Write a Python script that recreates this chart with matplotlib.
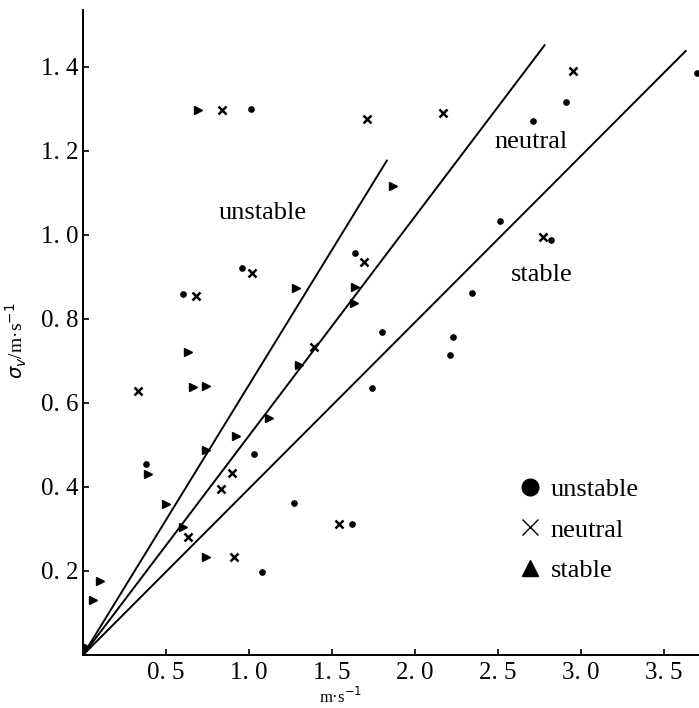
import numpy as np
import matplotlib
matplotlib.use("Agg")
from matplotlib import pyplot as plt
from matplotlib.lines import Line2D

plt.rcParams['font.family'] = ['Liberation Serif', 'DejaVu Serif']

# unstable cases (dots)
unstable_x = [1.01, 0.96, 0.60, 0.38, 1.03, 1.27, 1.08, 1.62, 1.64, 1.80, 1.74,
              2.34, 2.23, 2.21, 2.51, 2.71, 2.91, 2.82, 3.70]
unstable_y = [1.30, 0.92, 0.86, 0.455, 0.478, 0.361, 0.198, 0.311, 0.956, 0.768, 0.635,
              0.861, 0.756, 0.713, 1.034, 1.27, 1.315, 0.987, 1.384]

# neutral cases (crosses)
neutral_x = [0.84, 1.02, 0.68, 0.33, 1.39, 0.90, 0.83, 0.63, 0.91, 1.54, 1.69,
             1.71, 2.17, 2.95, 2.77]
neutral_y = [1.298, 0.909, 0.854, 0.628, 0.732, 0.433, 0.394, 0.281, 0.233, 0.312, 0.935,
             1.275, 1.29, 1.39, 0.995]

# stable cases (triangles)
stable_x = [0.69, 1.28, 0.63, 0.66, 0.74, 1.12, 1.30, 0.92, 0.74, 0.39, 0.50,
            0.60, 0.74, 0.10, 0.06, 1.87, 1.63, 1.64, 0.02]
stable_y = [1.298, 0.873, 0.72, 0.637, 0.64, 0.564, 0.69, 0.521, 0.488, 0.43, 0.359,
            0.304, 0.233, 0.176, 0.131, 1.115, 0.837, 0.875, 0.02]

# lines through the origin: slope and end point
line_slopes = [0.643, 0.522, 0.396]
line_ends = [1.83, 2.78, 3.63]

region_names = ["unstable", "neutral", "stable"]
region_x = [1.08, 2.70, 2.76]
region_y = [1.053, 1.22, 0.904]

xticks = [0.5, 1.0, 1.5, 2.0, 2.5, 3.0, 3.5]
xtick_labels = ["0. 5", "1. 0", "1. 5", "2. 0", "2. 5", "3. 0", "3. 5"]
yticks = [0.2, 0.4, 0.6, 0.8, 1.0, 1.2, 1.4]
ytick_labels = ["0. 2", "0. 4", "0. 6", "0. 8", "1. 0", "1. 2", "1. 4"]

fig = plt.figure(figsize=(6.99, 7.08), dpi=100)
ax = fig.add_axes([83 / 699, 53 / 708, 616 / 699, 645 / 708])

for k, xe in zip(line_slopes, line_ends):
    ax.plot([0, xe], [0, k * xe], color="black", lw=1.4)

ax.plot(unstable_x, unstable_y, "o", color="black", ms=3.8, ls="")
ax.plot(neutral_x, neutral_y, "x", color="black", ms=5.5, mew=1.8, ls="")
ax.plot(stable_x, stable_y, ">", color="black", ms=6, ls="")

for name, tx, ty in zip(region_names, region_x, region_y):
    ax.text(tx, ty, name, fontsize=19, ha="center", va="center")

handles = [
    Line2D([], [], marker="o", ls="", color="black", ms=12),
    Line2D([], [], marker="x", ls="", color="black", ms=11, mew=1.0),
    Line2D([], [], marker="^", ls="", color="black", ms=12),
]
ax.legend(handles, ["unstable", "neutral", "stable"], loc="upper left",
          bbox_to_anchor=(0.665, 0.312), frameon=False, fontsize=19,
          handlelength=1.0, handletextpad=0.3, labelspacing=0.65)

ax.set_xlim(0, 3.71)
ax.set_ylim(0, 1.535)
ax.set_xticks(xticks)
ax.set_xticklabels(xtick_labels, fontsize=18)
ax.set_yticks(yticks)
ax.set_yticklabels(ytick_labels, fontsize=18)
ax.tick_params(direction="in", length=4, width=1.2)
ax.tick_params(axis="x", pad=5)
ax.tick_params(axis="y", pad=3)

ax.spines["top"].set_visible(False)
ax.spines["right"].set_visible(False)
ax.spines["left"].set_linewidth(1.4)
ax.spines["bottom"].set_linewidth(1.4)

fig.text(341 / 699, 1 - 697 / 708, "m·s$^{-1}$", fontsize=12, ha="center", va="center")
fig.text(16 / 699, 1 - 341 / 708, r"$\sigma_v$/m·s$^{-1}$", fontsize=14,
         rotation=90, ha="center", va="center")

plt.savefig("out.png", dpi=100)
